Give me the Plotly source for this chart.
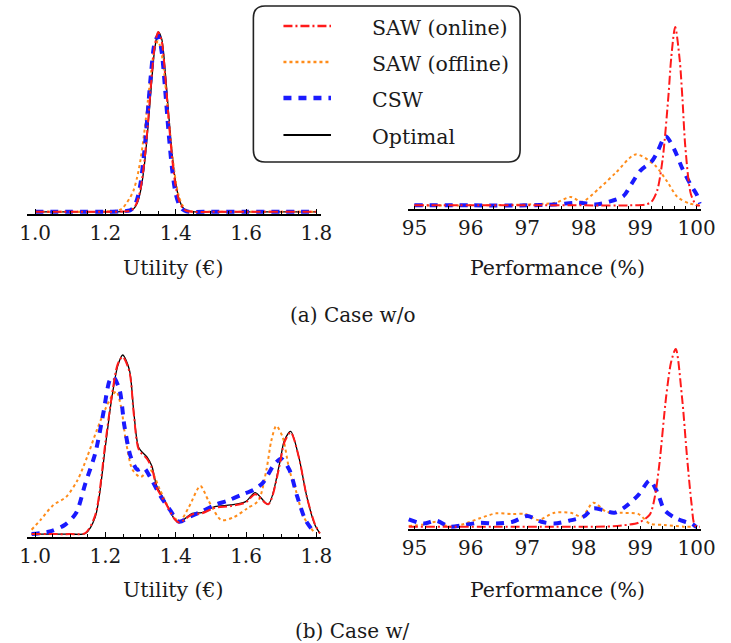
import plotly.graph_objects as go

# ---------------- data (density, arbitrary units) ----------------
# (a) Case w/o -- utility
UA_X = [1.00, 1.10, 1.20, 1.25, 1.27, 1.28, 1.29, 1.30, 1.31, 1.32, 1.33, 1.34, 1.35,
        1.36, 1.37, 1.38, 1.39, 1.40, 1.41, 1.42, 1.43, 1.45, 1.50, 1.60, 1.70, 1.80]
UA_OPT = [0.012, 0.012, 0.012, 0.013, 0.017, 0.028, 0.058, 0.127, 0.256, 0.453, 0.691, 0.903, 1.000,
          0.962, 0.784, 0.546, 0.327, 0.170, 0.080, 0.037, 0.020, 0.012, 0.012, 0.012, 0.012, 0.012]
UA_ON = [0.012, 0.012, 0.012, 0.014, 0.018, 0.031, 0.065, 0.140, 0.275, 0.480, 0.720, 0.920, 1.000,
         0.950, 0.760, 0.515, 0.300, 0.150, 0.070, 0.032, 0.018, 0.012, 0.012, 0.012, 0.012, 0.012]
UA_CSW = [0.012, 0.012, 0.012, 0.015, 0.020, 0.036, 0.080, 0.170, 0.330, 0.550, 0.780, 0.940, 0.980,
          0.890, 0.680, 0.440, 0.240, 0.110, 0.050, 0.025, 0.015, 0.012, 0.012, 0.012, 0.012, 0.012]
UA_OFF_X = [1.00, 1.10, 1.20, 1.24, 1.25, 1.26, 1.27, 1.28, 1.29, 1.30, 1.31, 1.32, 1.33, 1.34,
            1.35, 1.36, 1.37, 1.38, 1.39, 1.40, 1.41, 1.42, 1.43, 1.45, 1.50, 1.60, 1.70, 1.80]
UA_OFF = [0.012, 0.012, 0.013, 0.022, 0.035, 0.060, 0.090, 0.130, 0.200, 0.300, 0.440, 0.610, 0.780, 0.910,
          0.950, 0.880, 0.720, 0.520, 0.330, 0.180, 0.090, 0.045, 0.022, 0.013, 0.012, 0.012, 0.012, 0.012]

# (a) Case w/o -- performance
PA_ON_X = [95.0, 96.0, 97.0, 98.0, 98.8, 99.1, 99.2, 99.3, 99.4, 99.5, 99.55, 99.62,
           99.7, 99.75, 99.8, 99.9, 100.0, 100.06]
PA_ON = [0.02, 0.02, 0.02, 0.02, 0.02, 0.025, 0.04, 0.10, 0.28, 0.62, 0.83, 1.00,
         0.82, 0.60, 0.34, 0.08, 0.02, 0.02]
PA_CSW_X = [95.0, 96.0, 97.0, 97.5, 97.9, 98.2, 98.45, 98.7, 98.85, 99.0, 99.2, 99.3,
            99.45, 99.6, 99.75, 99.9, 100.0, 100.06]
PA_CSW = [0.02, 0.02, 0.02, 0.025, 0.035, 0.025, 0.04, 0.07, 0.14, 0.21, 0.26, 0.31,
          0.40, 0.33, 0.22, 0.13, 0.08, 0.03]
PA_OFF_X = [95.0, 96.0, 96.5, 97.0, 97.5, 97.77, 97.97, 98.28, 98.57, 98.92, 99.26, 99.48,
            99.66, 99.88, 100.06]
PA_OFF = [0.02, 0.02, 0.022, 0.025, 0.035, 0.066, 0.04, 0.115, 0.20, 0.30, 0.24, 0.15,
          0.066, 0.03, 0.02]

# (b) Case w/ -- utility
UB_X = [0.99, 1.05, 1.10, 1.143, 1.171, 1.20, 1.217, 1.235, 1.249, 1.268, 1.281, 1.295, 1.318,
        1.332, 1.346, 1.373, 1.396, 1.41, 1.447, 1.474, 1.511, 1.557, 1.599, 1.626, 1.663,
        1.695, 1.709, 1.727, 1.75, 1.773, 1.796, 1.81]
UB_OPT = [0.016, 0.016, 0.016, 0.02, 0.11, 0.50, 0.75, 0.94, 1.0, 0.92, 0.68, 0.49, 0.44,
          0.39, 0.28, 0.185, 0.10, 0.08, 0.13, 0.134, 0.167, 0.176, 0.194, 0.244, 0.18,
          0.40, 0.53, 0.58, 0.44, 0.22, 0.066, 0.02]
UB_ON = [0.016, 0.016, 0.016, 0.022, 0.12, 0.52, 0.76, 0.95, 0.99, 0.91, 0.67, 0.48, 0.43,
         0.38, 0.27, 0.18, 0.10, 0.08, 0.125, 0.13, 0.16, 0.17, 0.19, 0.235, 0.18,
         0.39, 0.52, 0.575, 0.44, 0.22, 0.07, 0.02]
UB_CSW_X = [0.99, 1.042, 1.084, 1.116, 1.143, 1.171, 1.194, 1.212, 1.222, 1.24, 1.254, 1.272,
            1.291, 1.309, 1.327, 1.355, 1.383, 1.41, 1.438, 1.474, 1.511, 1.548, 1.585, 1.622,
            1.649, 1.677, 1.70, 1.723, 1.746, 1.769, 1.792]
UB_CSW = [0.016, 0.03, 0.066, 0.13, 0.295, 0.46, 0.68, 0.86, 0.88, 0.81, 0.61, 0.44,
          0.37, 0.38, 0.33, 0.23, 0.15, 0.084, 0.11, 0.14, 0.176, 0.20, 0.23, 0.26,
          0.30, 0.39, 0.43, 0.37, 0.22, 0.093, 0.03]
UB_OFF_X = [0.99, 1.015, 1.052, 1.088, 1.12, 1.148, 1.176, 1.199, 1.217, 1.231, 1.245, 1.258,
            1.277, 1.30, 1.327, 1.355, 1.383, 1.41, 1.438, 1.47, 1.493, 1.53, 1.566, 1.603,
            1.635, 1.658, 1.672, 1.686, 1.704, 1.723, 1.741, 1.764, 1.792]
UB_OFF = [0.04, 0.093, 0.176, 0.22, 0.31, 0.44, 0.59, 0.70, 0.77, 0.80, 0.71, 0.53,
          0.37, 0.33, 0.37, 0.26, 0.15, 0.084, 0.167, 0.28, 0.20, 0.093, 0.11, 0.157,
          0.20, 0.37, 0.53, 0.61, 0.55, 0.37, 0.26, 0.11, 0.03]

# (b) Case w/ -- performance
PB_ON_X = [94.9, 95.5, 96.5, 97.5, 98.5, 98.68, 98.97, 99.17, 99.26, 99.34, 99.46, 99.55,
           99.63, 99.74, 99.83, 99.91, 99.97, 100.06]
PB_ON = [0.012, 0.012, 0.012, 0.012, 0.015, 0.02, 0.035, 0.08, 0.18, 0.36, 0.735, 0.93,
         1.0, 0.735, 0.40, 0.14, 0.02, 0.012]
PB_CSW_X = [94.9, 95.16, 95.39, 95.62, 95.88, 96.16, 96.45, 96.74, 97.0, 97.25, 97.48, 97.74,
            98.0, 98.17, 98.34, 98.54, 98.74, 98.97, 99.17, 99.31, 99.43, 99.63, 99.8, 99.91, 100.0]
PB_CSW = [0.054, 0.03, 0.046, 0.013, 0.022, 0.035, 0.03, 0.04, 0.072, 0.04, 0.03, 0.046,
          0.069, 0.115, 0.105, 0.09, 0.124, 0.19, 0.27, 0.20, 0.105, 0.06, 0.04, 0.03, 0.01]
PB_OFF_X = [94.9, 95.16, 95.39, 95.62, 95.88, 96.16, 96.45, 96.74, 96.97, 97.19, 97.48, 97.77,
            97.97, 98.17, 98.4, 98.68, 98.97, 99.17, 99.43, 99.77, 100.06]
PB_OFF = [0.017, 0.025, 0.04, 0.013, 0.028, 0.06, 0.087, 0.083, 0.083, 0.05, 0.09, 0.09,
          0.069, 0.146, 0.096, 0.09, 0.083, 0.03, 0.022, 0.013, 0.013]

SERIES = ["SAW (online)", "SAW (offline)", "CSW", "Optimal"]
CAPTIONS = ["(a) Case w/o", "(b) Case w/"]
UTIL_TITLE = "Utility (€)"
PERF_TITLE = "Performance (%)"

# ---------------- styling ----------------
W, H = 731, 643
FONT = "DejaVu Serif"
TXT = "#1a1a1a"
STYLE = {
    "SAW (online)": dict(color="#ff1a1a", width=2.0, dash="9px,3px,2px,3px"),
    "SAW (offline)": dict(color="#ff8c1a", width=2.0, dash="3px,3px"),
    "CSW": dict(color="#1a1aff", width=4.0, dash="8px,7px"),
    "Optimal": dict(color="#000000", width=1.3, dash="solid"),
}


def px_x(p):
    return p / W


def px_y(p):
    return 1 - p / H


fig = go.Figure()


def add(name, x, y, ax):
    xa, ya = ax
    fig.add_trace(go.Scatter(x=x, y=y, mode="lines", name=name, showlegend=False,
                             line=dict(shape="spline", smoothing=0.8, **STYLE[name]),
                             xaxis=xa, yaxis=ya, hoverinfo="skip"))


# draw order: optimal, offline, CSW, online on top
add("Optimal", UA_X, UA_OPT, ("x", "y"))
add("SAW (offline)", UA_OFF_X, UA_OFF, ("x", "y"))
add("CSW", UA_X, UA_CSW, ("x", "y"))
add("SAW (online)", UA_X, UA_ON, ("x", "y"))

add("SAW (offline)", PA_OFF_X, PA_OFF, ("x2", "y2"))
add("CSW", PA_CSW_X, PA_CSW, ("x2", "y2"))
add("SAW (online)", PA_ON_X, PA_ON, ("x2", "y2"))

add("Optimal", UB_X, UB_OPT, ("x3", "y3"))
add("SAW (offline)", UB_OFF_X, UB_OFF, ("x3", "y3"))
add("CSW", UB_CSW_X, UB_CSW, ("x3", "y3"))
add("SAW (online)", UB_X, UB_ON, ("x3", "y3"))

add("SAW (offline)", PB_OFF_X, PB_OFF, ("x4", "y4"))
add("CSW", PB_CSW_X, PB_CSW, ("x4", "y4"))
add("SAW (online)", PB_ON_X, PB_ON, ("x4", "y4"))

tickfont = dict(family=FONT, size=20, color=TXT)


def util_axis(anchor):
    return dict(domain=[px_x(20), px_x(323)], range=[0.978, 1.814], anchor=anchor,
                tick0=1.0, dtick=0.2, tickformat=".1f", ticks="inside", ticklen=5,
                tickwidth=1, tickcolor="black", showline=True, linecolor="black",
                linewidth=1.5, showgrid=False, zeroline=False, tickfont=tickfont,
                minor=dict(dtick=0.05, ticks="inside", ticklen=3, tickcolor="black",
                           tickwidth=1, showgrid=False))


def perf_axis(anchor):
    return dict(domain=[px_x(412), px_x(715)], range=[94.88, 100.086], anchor=anchor,
                tick0=95, dtick=1, ticks="inside", ticklen=3, tickwidth=1,
                tickcolor="black", showline=True, linecolor="black", linewidth=1.5,
                showgrid=False, zeroline=False, tickfont=tickfont,
                minor=dict(dtick=0.2, ticks="inside", ticklen=3, tickcolor="black",
                           tickwidth=1, showgrid=False))


def perf_under(anchor, over):
    # lower half of the tick marks, which cross the axis line
    return dict(domain=[px_x(412), px_x(715)], range=[94.88, 100.086], anchor=anchor,
                overlaying=over, tick0=95, dtick=0.2, ticks="outside", ticklen=3,
                tickwidth=1, tickcolor="black", showticklabels=False, showline=False,
                showgrid=False, zeroline=False)


def yax(bottom_px, top_px, unit_px):
    return dict(domain=[px_y(bottom_px), px_y(top_px)],
                range=[0, (bottom_px - top_px) / unit_px], visible=False,
                showgrid=False, zeroline=False)


fig.update_layout(
    width=W, height=H, margin=dict(l=0, r=0, t=0, b=0),
    paper_bgcolor="white", plot_bgcolor="white",
    font=dict(family=FONT, color=TXT),
    xaxis=util_axis("y"), yaxis=yax(214, 20, 182),
    xaxis2=perf_axis("y2"), yaxis2=yax(209, 20, 182),
    xaxis3=util_axis("y3"), yaxis3=yax(537, 345, 182),
    xaxis4=perf_axis("y4"), yaxis4=yax(529, 340, 180),
    xaxis5=perf_under("y2", "x2"), xaxis6=perf_under("y4", "x4"),
)

# axis titles and captions
ann = []
for (x, y, t, s) in [(171, 268, UTIL_TITLE, 20.5), (567, 268, PERF_TITLE, 20.5),
                     (171, 590, UTIL_TITLE, 20.5), (567, 590, PERF_TITLE, 20.5),
                     (355, 315, CAPTIONS[0], 20), (355, 631, CAPTIONS[1], 20)]:
    ann.append(dict(x=px_x(x), y=px_y(y), xref="paper", yref="paper", text=t,
                    showarrow=False, xanchor="center", yanchor="middle",
                    font=dict(family=FONT, size=s, color=TXT)))

# legend box (rounded)
x0, x1, y0, y1, r = 253, 528, 6, 162, 12
rx, ry = r / W, r / H
X0, X1, Y0, Y1 = px_x(x0), px_x(x1), px_y(y1), px_y(y0)
path = (f"M {X0+rx},{Y0} L {X1-rx},{Y0} Q {X1},{Y0} {X1},{Y0+ry} "
        f"L {X1},{Y1-ry} Q {X1},{Y1} {X1-rx},{Y1} L {X0+rx},{Y1} "
        f"Q {X0},{Y1} {X0},{Y1-ry} L {X0},{Y0+ry} Q {X0},{Y0} {X0+rx},{Y0} Z")
shapes = [dict(type="path", path=path, xref="paper", yref="paper",
               line=dict(color="#222222", width=1.6), fillcolor="white", layer="above")]
rows = [26, 62, 98, 135]
for name, yy in zip(SERIES, rows):
    st = STYLE[name]
    shapes.append(dict(type="line", xref="paper", yref="paper",
                       x0=px_x(284), x1=px_x(333), y0=px_y(yy), y1=px_y(yy),
                       line=dict(color=st["color"], width=st["width"] + 0.5, dash=st["dash"]),
                       layer="above"))
    ann.append(dict(x=px_x(373), y=px_y(yy + 2), xref="paper", yref="paper", text=name,
                    showarrow=False, xanchor="left", yanchor="middle",
                    font=dict(family=FONT, size=20.5, color=TXT)))

fig.update_layout(annotations=ann, shapes=shapes)
fig.write_html("out.html")
